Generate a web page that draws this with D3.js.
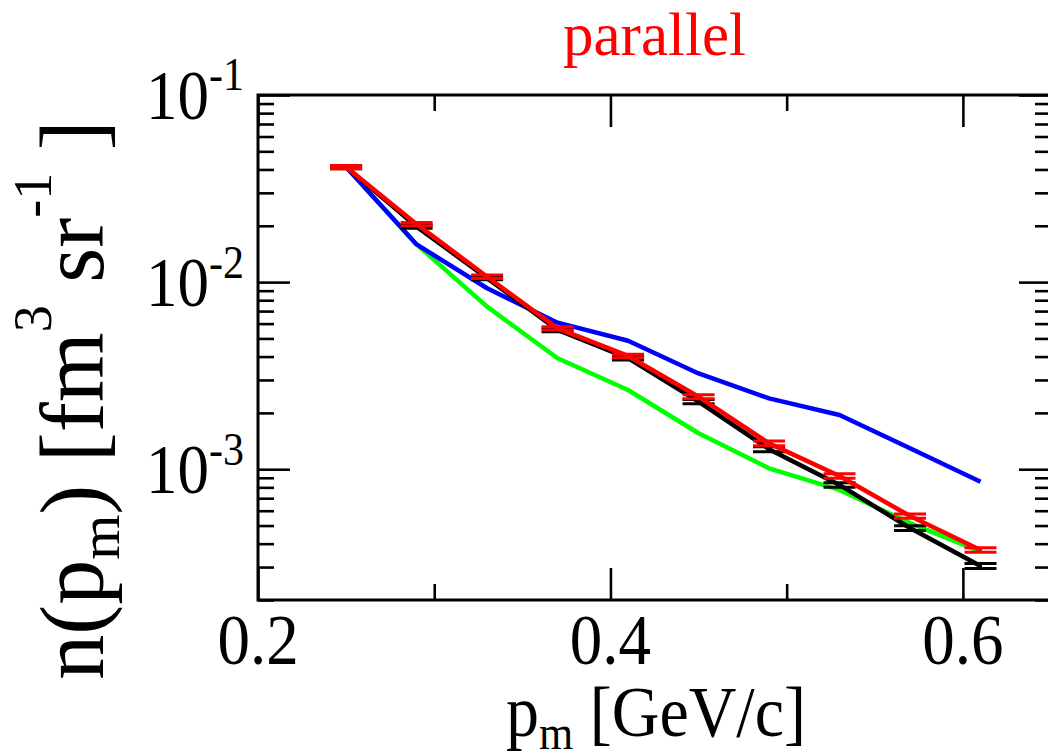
<!DOCTYPE html>
<html><head><meta charset="utf-8">
<script src="https://cdn.jsdelivr.net/npm/d3@7"></script>
<style>
body{margin:0;background:#fff}
svg{display:block}
text{font-family:"Liberation Serif","Times New Roman",serif;fill:#000}
</style>
</head><body><svg id="c" width="1048" height="756"></svg>
<script>
// ---- data ----
const pm = [0.25, 0.29, 0.33, 0.37, 0.41, 0.45, 0.49, 0.53, 0.57, 0.61];
const redVals   = [0.0412, 0.0204, 0.01069, 0.00566, 0.00403, 0.00244, 0.001375, 0.00092, 0.000562, 0.00037];
const redErr    = [0.0008, 0.0004, 0.00022, 0.00012, 0.00009, 0.00006, 0.00004, 0.000025, 0.000015, 0.00001];
const blackVals = [0.0412, 0.0198, 0.0105, 0.00555, 0.00392, 0.0023, 0.00128, 0.000824, 0.000485, 0.000304];
const blackErr  = [0.0008, 0.0004, 0.00022, 0.00012, 0.00009, 0.00006, 0.00004, 0.000022, 0.000014, 0.000009];
const blueVals  = [0.0412, 0.0159, 0.00927, 0.00607, 0.00486, 0.00325, 0.00239, 0.00195, 0.001294, 0.000857];
const greenVals = [0.0412, 0.0159, 0.00739, 0.00392, 0.00265, 0.001556, 0.001011, 0.000775, 0.000515, 0.000363];
const xMajor = [0.2, 0.4, 0.6];
const xMinor = [0.3, 0.5];
const xTickLabels = ["0.2", "0.4", "0.6"];
const yMajor = [0.1, 0.01, 0.001];
const yExponents = ["-1", "-2", "-3"];
const title = "parallel";

// ---- layout ----
const svg = d3.select("#c");
const L = 258, R = 1051, T = 95, B = 600;
const x = d3.scaleLinear().domain([0.2, 0.65]).range([L, R]);
const y = d3.scaleLog().domain([2e-4, 0.1]).range([B, T]);

const yMinor = [];
[0.01, 0.001, 0.0001].forEach(d => { for (let k = 2; k <= 9; k++) { const v = d * k; if (v >= 2e-4 && v < 0.1) yMinor.push(v); } });

const MAJ = 32, MIN = 16;
const axStyle = g => { g.select(".domain").remove(); g.selectAll("text").remove(); g.selectAll("line").attr("stroke", "#000").attr("stroke-width", 2.6); };

svg.append("g").attr("transform", `translate(0,${B})`).call(d3.axisBottom(x).tickValues(xMajor).tickSize(-MAJ)).call(axStyle);
svg.append("g").attr("transform", `translate(0,${B})`).call(d3.axisBottom(x).tickValues(xMinor).tickSize(-MIN)).call(axStyle);
svg.append("g").attr("transform", `translate(0,${T})`).call(d3.axisTop(x).tickValues(xMajor).tickSize(-MAJ)).call(axStyle);
svg.append("g").attr("transform", `translate(0,${T})`).call(d3.axisTop(x).tickValues(xMinor).tickSize(-MIN)).call(axStyle);
svg.append("g").attr("transform", `translate(${L},0)`).call(d3.axisLeft(y).tickValues(yMajor).tickSize(-MAJ)).call(axStyle);
svg.append("g").attr("transform", `translate(${L},0)`).call(d3.axisLeft(y).tickValues(yMinor).tickSize(-MIN)).call(axStyle);
svg.append("g").attr("transform", `translate(${R},0)`).call(d3.axisRight(y).tickValues(yMajor).tickSize(-MAJ)).call(axStyle);
svg.append("g").attr("transform", `translate(${R},0)`).call(d3.axisRight(y).tickValues(yMinor).tickSize(-MIN)).call(axStyle);

svg.append("rect").attr("x", L).attr("y", T).attr("width", R - L).attr("height", B - T)
  .attr("fill", "none").attr("stroke", "#000").attr("stroke-width", 3);

// ---- series ----
const line = d3.line().x(d => x(d[0])).y(d => y(d[1]));
const series = [
  {vals: greenVals, color: "#00ff00"},
  {vals: blueVals, color: "#0000ff"},
  {vals: blackVals, color: "#000000", err: blackErr},
  {vals: redVals, color: "#ff0000", err: redErr}
];
const CAP = 16;
series.forEach(s => {
  const pts = pm.map((p, i) => [p, s.vals[i]]);
  svg.append("path").attr("d", line(pts)).attr("fill", "none").attr("stroke", s.color)
    .attr("stroke-width", 4.5).attr("stroke-linejoin", "round");
  if (s.err) {
    const g = svg.append("g").attr("stroke", s.color).attr("stroke-width", 3);
    pm.forEach((p, i) => {
      const hi = s.vals[i] + s.err[i], lo = s.vals[i] - s.err[i];
      g.append("line").attr("x1", x(p)).attr("x2", x(p)).attr("y1", y(hi)).attr("y2", y(lo));
      g.append("line").attr("x1", x(p) - CAP).attr("x2", x(p) + CAP).attr("y1", y(hi)).attr("y2", y(hi));
      g.append("line").attr("x1", x(p) - CAP).attr("x2", x(p) + CAP).attr("y1", y(lo)).attr("y2", y(lo));
    });
  }
});

// ---- text ----
svg.append("text").attr("x", (L + R) / 2).attr("y", 55).attr("text-anchor", "middle")
  .style("font-size", "61px").style("fill", "#ff0000").text(title);

xMajor.forEach((v, i) => {
  svg.append("text").attr("transform", `translate(${x(v)},664) scale(1,1.1)`).attr("text-anchor", "middle")
    .style("font-size", "65px").text(xTickLabels[i]);
});

yMajor.forEach((v, i) => {
  const t = svg.append("text").attr("transform", `translate(244,${y(v) + 24}) scale(1,1.1)`).attr("text-anchor", "end").style("font-size", "63px");
  t.append("tspan").text("10");
  t.append("tspan").attr("dy", -26).style("font-size", "42px").text(yExponents[i]);
});

// x label
const xl = svg.append("text").attr("transform", "translate(656,736) scale(1,1.1)").attr("text-anchor", "middle").style("font-size", "66px");
xl.append("tspan").text("p");
xl.append("tspan").attr("dy", 12).style("font-size", "44px").text("m");
xl.append("tspan").attr("dy", -12).text(" [GeV/c]");

// y label
const yl = svg.append("text").attr("transform", "translate(103,400) rotate(-90)").attr("text-anchor", "middle").style("font-size", "90px");
yl.append("tspan").text("n(p");
yl.append("tspan").attr("dy", 16).style("font-size", "58px").text("m");
yl.append("tspan").attr("dy", -16).text(") [fm");
yl.append("tspan").attr("dy", -52).style("font-size", "54px").text("3");
yl.append("tspan").attr("dy", 52).text(" sr");
yl.append("tspan").attr("dy", -52).style("font-size", "54px").text("-1");
yl.append("tspan").attr("dy", 52).text(" ]");
</script>
</body></html>
